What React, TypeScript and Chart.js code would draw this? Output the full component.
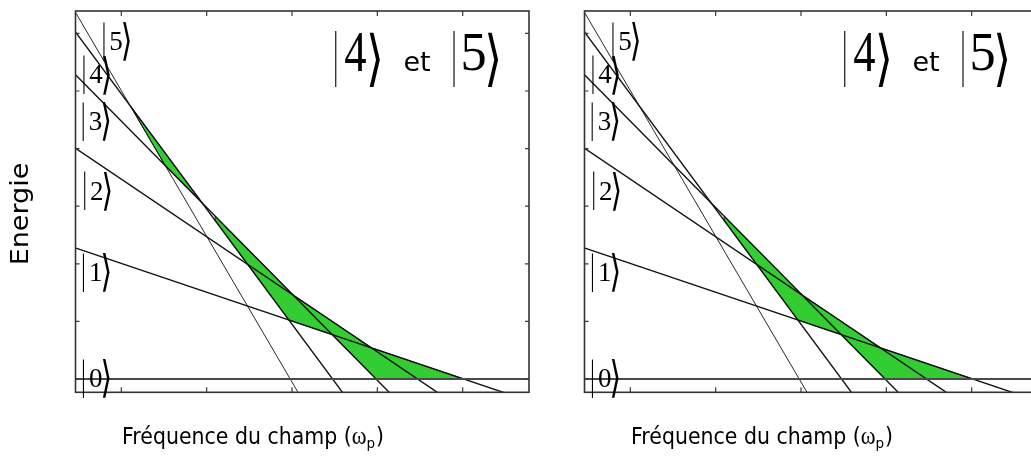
import React, { useEffect, useRef } from "react";
import { Chart, registerables } from "chart.js";

Chart.register(...registerables);

// Frequency axis (one unit per tick) and energy axis (one unit per tick)
const omegaRange = [-0.537, 4.777];
const energyRange = [-0.231, 6.389];
const omegaTicks = [0, 1, 2, 3, 4];
const energyTicks = [0, 1, 2, 3, 4, 5, 6];

// Dressed levels |n> : energy at both ends of the frequency sweep
const levelNames = ["0", "1", "2", "3", "4", "5"];
const sweepEnds = [-0.54, 4.8];
const levelAtStart = [0, 2.276, 4.011, 5.287, 6.031, 6.373];
const levelAtEnd = [0, -0.394, -1.329, -2.723, -4.649, -7.137];

// Where each |n> label sits (bar position, digit baseline)
const labelOmega = [-0.449, -0.449, -0.437, -0.452, -0.445, -0.211];
const labelEnergy = [-0.139, 1.701, 3.108, 4.323, 5.134, 5.712];

// Shaded zones (vertices in frequency / energy)
const sliverOmega = [0.106, 0.948, 0.515];
const sliverEnergy = [4.74, 3.055, 3.705];
const zoneOmega = [1.1, 2.012, 2.936, 4.012, 2.985, 2.471, 1.963, 1.1];
const zoneEnergy = [2.827, 1.459, 0.538, 0, 0, 0.771, 1.024, 2.751];

// Texts
const titleKets = ["4", "5"];
const titleJoin = "et";
const xTitleText = "Fréquence du champ (";
const xTitleSymbol = "ω";
const xTitleSub = "p";
const yTitleText = "Energie";

const SERIF = "'Liberation Serif', 'DejaVu Serif', serif";
const BRACKET_FONT = "60px 'DejaVu Sans', sans-serif";
const SANS = "'DejaVu Sans', sans-serif";

const PANEL_W = 545;
const PANEL_H = 458;

type Pt = { x: number; y: number };

function closedPolygon(xs: number[], ys: number[]): Pt[] {
  const pts = xs.map((x, i) => ({ x, y: ys[i] }));
  pts.push({ ...pts[0] });
  return pts;
}

// Draws one glyph stretched so that its ink fills the given box
function fitGlyph(
  ctx: CanvasRenderingContext2D,
  ch: string,
  font: string,
  x0: number,
  y0: number,
  x1: number,
  y1: number
) {
  ctx.save();
  ctx.font = font;
  ctx.textAlign = "left";
  ctx.textBaseline = "alphabetic";
  const m = ctx.measureText(ch);
  const gl = -m.actualBoundingBoxLeft;
  const gr = m.actualBoundingBoxRight;
  const gt = -m.actualBoundingBoxAscent;
  const gb = m.actualBoundingBoxDescent;
  ctx.translate(x0, y0);
  ctx.scale((x1 - x0) / Math.max(0.1, gr - gl), (y1 - y0) / Math.max(0.1, gb - gt));
  ctx.fillText(ch, -gl, -gt);
  ctx.restore();
}

function smallKet(ctx: CanvasRenderingContext2D, digit: string, bx: number, base: number) {
  fitGlyph(ctx, "|", `40px ${SERIF}`, bx, base - 28, bx + 1.1, base + 11);
  ctx.save();
  ctx.font = `27px ${SERIF}`;
  ctx.textAlign = "left";
  ctx.textBaseline = "alphabetic";
  ctx.fillText(digit, bx + 6, base);
  const w = ctx.measureText(digit).width;
  ctx.restore();
  fitGlyph(ctx, "⟩", BRACKET_FONT, bx + 6 + w, base - 28, bx + 6 + w + 7.5, base + 11);
}

function titleKet(ctx: CanvasRenderingContext2D, digit: string, bx: number, base: number) {
  fitGlyph(ctx, "|", `60px ${SERIF}`, bx, base - 39, bx + 1.5, base + 16);
  fitGlyph(ctx, digit, `56px ${SERIF}`, bx + 10, base - 38.5, bx + 31.5, base);
  fitGlyph(ctx, "⟩", BRACKET_FONT, bx + 34, base - 39, bx + 45.5, base + 16);
}

const decorations = {
  id: "decorations",
  afterDraw(chart: any, _args: any, opts: any) {
    const { ctx, chartArea: a } = chart;
    const xs = chart.scales.x;
    const ys = chart.scales.y;
    ctx.save();

    // inward ticks on all four sides
    ctx.strokeStyle = "#3a3a3a";
    ctx.lineWidth = 1.2;
    ctx.beginPath();
    for (const v of omegaTicks) {
      const px = xs.getPixelForValue(v);
      ctx.moveTo(px, a.bottom);
      ctx.lineTo(px, a.bottom - 5);
      ctx.moveTo(px, a.top);
      ctx.lineTo(px, a.top + 5);
    }
    for (const v of energyTicks) {
      const py = ys.getPixelForValue(v);
      ctx.moveTo(a.left, py);
      ctx.lineTo(a.left + 4, py);
      ctx.moveTo(a.right, py);
      ctx.lineTo(a.right - 4, py);
    }
    ctx.stroke();

    // frame
    ctx.strokeStyle = "#333";
    ctx.lineWidth = 1.6;
    ctx.strokeRect(a.left, a.top, a.right - a.left, a.bottom - a.top);

    ctx.fillStyle = "#000";

    // level labels |n>
    levelNames.forEach((n, i) => {
      smallKet(ctx, n, xs.getPixelForValue(labelOmega[i]), ys.getPixelForValue(labelEnergy[i]));
    });

    // panel title |4> et |5>
    const tx = a.left;
    const tBase = a.top + 60;
    titleKet(ctx, titleKets[0], tx + 259.5, tBase);
    ctx.font = `27px ${SANS}`;
    ctx.textAlign = "left";
    ctx.textBaseline = "alphabetic";
    ctx.fillText(titleJoin, tx + 328, tBase);
    titleKet(ctx, titleKets[1], tx + 377.8, tBase);

    // frequency axis title
    const mainFont = `20.5px ${SANS}`;
    const symFont = `22.5px ${SERIF}`;
    const subFont = `13.5px ${SANS}`;
    ctx.font = mainFont;
    const w1 = ctx.measureText(xTitleText).width;
    ctx.font = symFont;
    const w2 = ctx.measureText(xTitleSymbol).width;
    ctx.font = subFont;
    const w3 = ctx.measureText(xTitleSub).width;
    ctx.save();
    ctx.translate(a.left + 46.5, 444);
    ctx.scale(1.0, 1.08);
    let cx = 0;
    ctx.font = mainFont;
    ctx.fillText(xTitleText, cx, 0);
    cx += w1;
    ctx.font = symFont;
    ctx.fillText(xTitleSymbol, cx, 0);
    cx += w2;
    ctx.font = subFont;
    ctx.fillText(xTitleSub, cx, 4);
    cx += w3 + 1;
    ctx.font = mainFont;
    ctx.fillText(")", cx, 0);
    ctx.restore();

    // energy axis title
    if (opts && opts.showEnergy) {
      ctx.save();
      ctx.translate(a.left - 54, 214);
      ctx.rotate(-Math.PI / 2);
      ctx.scale(1.0, 0.95);
      ctx.font = `27px ${SANS}`;
      ctx.textAlign = "center";
      ctx.textBaseline = "middle";
      ctx.fillText(yTitleText, 0, 0);
      ctx.restore();
    }

    ctx.restore();
  },
};

function Panel({ left, withSliver, showEnergy }: { left: number; withSliver: boolean; showEnergy: boolean }) {
  const ref = useRef<HTMLCanvasElement>(null);

  useEffect(() => {
    const zones: any[] = [];
    const zoneStyle = {
      showLine: true,
      fill: "shape",
      backgroundColor: "#33cc33",
      borderColor: "#1c1c1c",
      borderWidth: 1,
      pointRadius: 0,
      tension: 0,
      order: 2,
    };
    if (withSliver) zones.push({ ...zoneStyle, data: closedPolygon(sliverOmega, sliverEnergy) });
    zones.push({ ...zoneStyle, data: closedPolygon(zoneOmega, zoneEnergy) });

    const levels = levelNames.map((_, i) => ({
      showLine: true,
      fill: false,
      data: [
        { x: sweepEnds[0], y: levelAtStart[i] },
        { x: sweepEnds[1], y: levelAtEnd[i] },
      ],
      borderColor: i === 0 ? "#4a4a4a" : "#111",
      borderWidth: i === 0 ? 2.2 : i === 5 ? 0.9 : 1.4,
      pointRadius: 0,
      tension: 0,
      order: 1,
    }));

    const chart = new Chart(ref.current as HTMLCanvasElement, {
      type: "scatter",
      data: { datasets: [...levels, ...zones] as any },
      options: {
        animation: false,
        responsive: false,
        events: [],
        layout: { padding: { left: 75.5, right: 16, top: 11, bottom: 65.7 } },
        plugins: {
          legend: { display: false },
          tooltip: { enabled: false },
          decorations: { showEnergy },
        } as any,
        scales: {
          x: { type: "linear", min: omegaRange[0], max: omegaRange[1], display: false },
          y: { type: "linear", min: energyRange[0], max: energyRange[1], display: false },
        },
      },
      plugins: [decorations as any],
    });
    return () => chart.destroy();
  }, [withSliver, showEnergy]);

  return (
    <div style={{ position: "absolute", left, top: 0, width: PANEL_W, height: PANEL_H }}>
      <canvas ref={ref} width={PANEL_W} height={PANEL_H} style={{ display: "block" }} />
    </div>
  );
}

export default function App() {
  return (
    <div
      style={{
        position: "fixed",
        left: 0,
        top: 0,
        width: 1031,
        height: 458,
        overflow: "hidden",
        background: "#fff",
      }}
    >
      <Panel left={0} withSliver={true} showEnergy={true} />
      <Panel left={509} withSliver={false} showEnergy={false} />
    </div>
  );
}
